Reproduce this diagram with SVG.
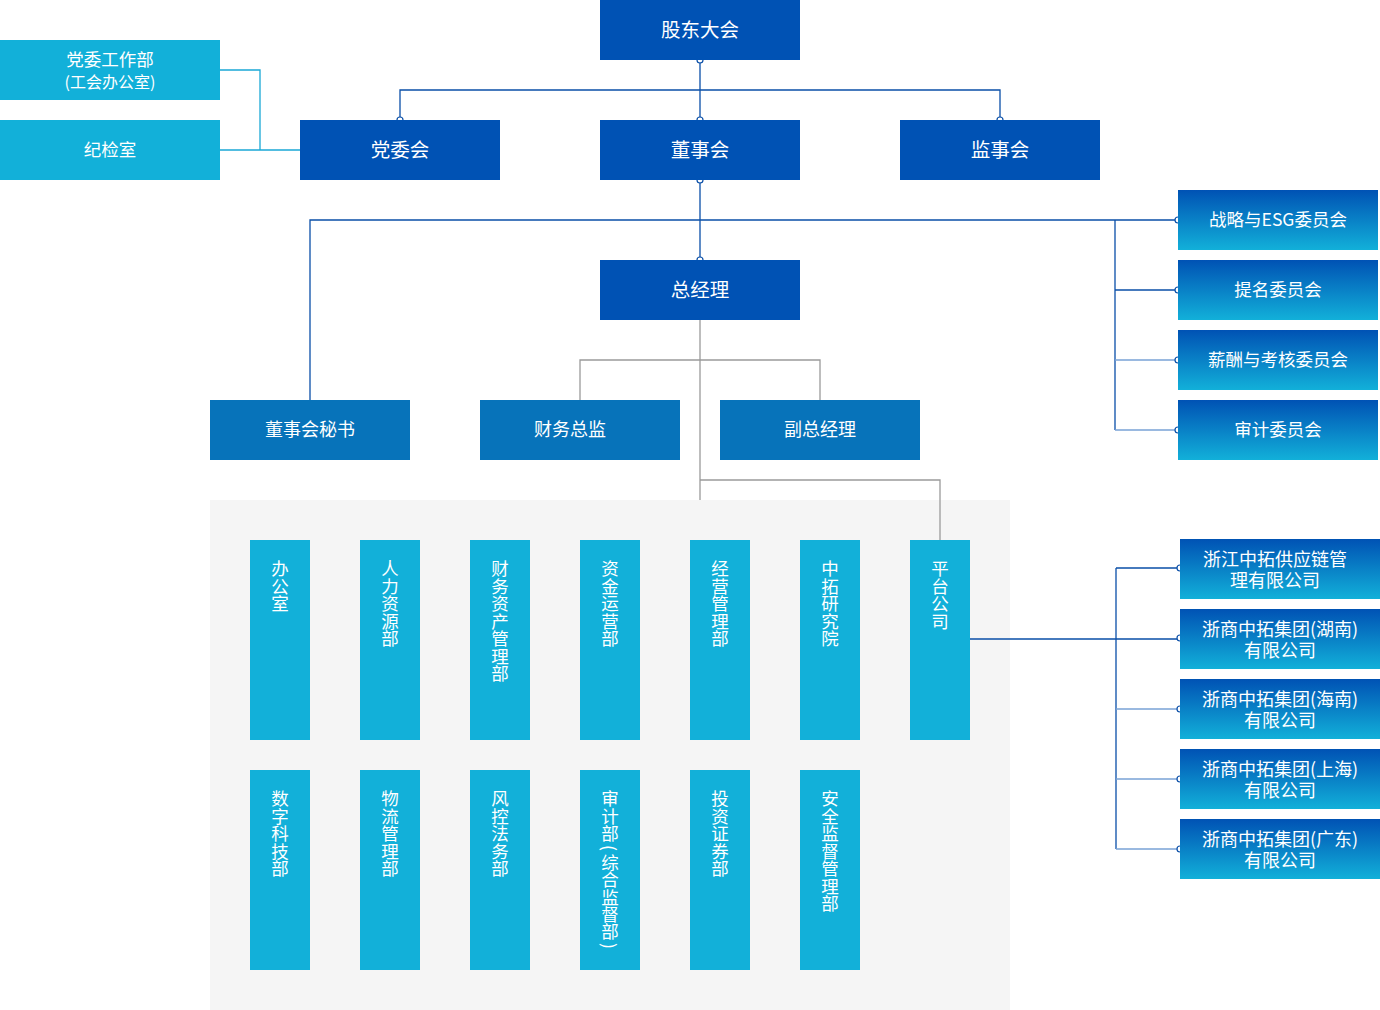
<svg xmlns="http://www.w3.org/2000/svg" width="1380" height="1010" viewBox="0 0 1380 1010">
<style>
text{font-family:"Noto Sans CJK SC","Noto Sans",sans-serif;fill:#fff;text-anchor:middle}
.dk{fill:#0052B4}
.md{fill:#0773BA}
.cy{fill:#12B0D9}
.gr{fill:url(#g)}
.t19{font-size:19.5px}
.t18{font-size:18px}
.t17{font-size:17.5px}
.v{font-size:17.5px;writing-mode:vertical-rl;text-anchor:start}
.lb{stroke:#0a4fa8;stroke-width:1.3;fill:none}
.ll{stroke:#7aa3d6;stroke-width:1.5;fill:none}
.lc{stroke:#1aa8d6;stroke-width:1.3;fill:none}
.lg{stroke:#9a9a9a;stroke-width:1.3;fill:none}
.dot{fill:#fff;stroke:#0a4fa8;stroke-width:1.2}
</style>
<defs>
<linearGradient id="g" x1="0" y1="0" x2="0" y2="1">
<stop offset="0" stop-color="#0052B4"/>
<stop offset="1" stop-color="#12B0D9"/>
</linearGradient>
</defs>
<rect x="210" y="500" width="800" height="510" fill="#f5f5f5"/>
<g id="connectors">
<path class="lb" d="M700 60V120M400 120V90H1000V120"/>
<path class="lc" d="M220 70H260V150M220 150H300"/>
<path class="lb" d="M700 180V260M310 400V220H1178M1115 220V430M1115 290H1178"/>
<path class="ll" d="M1115 360H1178M1115 430H1178"/>
<path class="lg" d="M700 320V500M580 400V360H820V400M700 480H940V540"/>
<path class="lb" d="M970 639H1180M1116 568V849M1116 568H1180"/>
<path class="ll" d="M1116 709H1180M1116 779H1180M1116 849H1180"/>
<circle class="dot" cx="700" cy="60" r="3"/>
<circle class="dot" cx="400" cy="120" r="3"/>
<circle class="dot" cx="700" cy="120" r="3"/>
<circle class="dot" cx="1000" cy="120" r="3"/>
<circle class="dot" cx="700" cy="180" r="3"/>
<circle class="dot" cx="700" cy="260" r="3"/>
<circle class="dot" cx="1178" cy="220" r="3"/>
<circle class="dot" cx="1178" cy="290" r="3"/>
<circle class="dot" cx="1178" cy="360" r="3"/>
<circle class="dot" cx="1178" cy="430" r="3"/>
<circle class="dot" cx="1180" cy="568" r="3"/>
<circle class="dot" cx="1180" cy="638" r="3"/>
<circle class="dot" cx="1180" cy="709" r="3"/>
<circle class="dot" cx="1180" cy="779" r="3"/>
<circle class="dot" cx="1180" cy="849" r="3"/>
</g>
<g id="gudong"><rect class="dk" x="600" y="0" width="200" height="60"/><text class="t19" x="700" y="37">股东大会</text></g>
<g id="dangwei"><rect class="dk" x="300" y="120" width="200" height="60"/><text class="t19" x="400" y="157">党委会</text></g>
<g id="dongshi"><rect class="dk" x="600" y="120" width="200" height="60"/><text class="t19" x="700" y="157">董事会</text></g>
<g id="jianshi"><rect class="dk" x="900" y="120" width="200" height="60"/><text class="t19" x="1000" y="157">监事会</text></g>
<g id="dwgzb"><rect class="cy" x="0" y="40" width="220" height="60"/><text class="t17" x="110" y="66">党委工作部</text><text style="font-size:16px" x="110" y="88">(工会办公室)</text></g>
<g id="jjs"><rect class="cy" x="0" y="120" width="220" height="60"/><text class="t17" x="110" y="156">纪检室</text></g>
<g id="zongjingli"><rect class="dk" x="600" y="260" width="200" height="60"/><text class="t19" x="700" y="297">总经理</text></g>
<g id="c1"><rect class="gr" x="1178" y="190" width="200" height="60"/><text class="t17" x="1278" y="226">战略与ESG委员会</text></g>
<g id="c2"><rect class="gr" x="1178" y="260" width="200" height="60"/><text class="t17" x="1278" y="296">提名委员会</text></g>
<g id="c3"><rect class="gr" x="1178" y="330" width="200" height="60"/><text class="t17" x="1278" y="366">薪酬与考核委员会</text></g>
<g id="c4"><rect class="gr" x="1178" y="400" width="200" height="60"/><text class="t17" x="1278" y="436">审计委员会</text></g>
<g id="mishu"><rect class="md" x="210" y="400" width="200" height="60"/><text class="t18" x="310" y="436">董事会秘书</text></g>
<g id="caiwu"><rect class="md" x="480" y="400" width="200" height="60"/><text class="t18" x="570" y="436">财务总监</text></g>
<g id="fuzong"><rect class="md" x="720" y="400" width="200" height="60"/><text class="t18" x="820" y="436">副总经理</text></g>
<g id="d1"><rect class="cy" x="250" y="540" width="60" height="200"/><text class="v" x="280" y="560">办公室</text></g>
<g id="d2"><rect class="cy" x="360" y="540" width="60" height="200"/><text class="v" x="390" y="560">人力资源部</text></g>
<g id="d3"><rect class="cy" x="470" y="540" width="60" height="200"/><text class="v" x="500" y="560">财务资产管理部</text></g>
<g id="d4"><rect class="cy" x="580" y="540" width="60" height="200"/><text class="v" x="610" y="560">资金运营部</text></g>
<g id="d5"><rect class="cy" x="690" y="540" width="60" height="200"/><text class="v" x="720" y="560">经营管理部</text></g>
<g id="d6"><rect class="cy" x="800" y="540" width="60" height="200"/><text class="v" x="830" y="560">中拓研究院</text></g>
<g id="d7"><rect class="cy" x="910" y="540" width="60" height="200"/><text class="v" x="940" y="560">平台公司</text></g>
<g id="d8"><rect class="cy" x="250" y="770" width="60" height="200"/><text class="v" x="280" y="790">数字科技部</text></g>
<g id="d9"><rect class="cy" x="360" y="770" width="60" height="200"/><text class="v" x="390" y="790">物流管理部</text></g>
<g id="d10"><rect class="cy" x="470" y="770" width="60" height="200"/><text class="v" x="500" y="790">风控法务部</text></g>
<g id="d11"><rect class="cy" x="580" y="770" width="60" height="200"/><text class="v" x="610" y="790">审计<tspan style="letter-spacing:2.5px">部(</tspan>综合监督<tspan style="letter-spacing:2.5px">部)</tspan></text></g>
<g id="d12"><rect class="cy" x="690" y="770" width="60" height="200"/><text class="v" x="720" y="790">投资证券部</text></g>
<g id="d13"><rect class="cy" x="800" y="770" width="60" height="200"/><text class="v" x="830" y="790">安全监督管理部</text></g>
<g id="s1"><rect class="gr" x="1180" y="539" width="200" height="60"/><text class="t18" x="1275" y="566">浙江中拓供应链管</text><text class="t18" x="1275" y="587">理有限公司</text></g>
<g id="s2"><rect class="gr" x="1180" y="609" width="200" height="60"/><text class="t18" x="1280" y="636">浙商中拓集团(湖南)</text><text class="t18" x="1280" y="657">有限公司</text></g>
<g id="s3"><rect class="gr" x="1180" y="679" width="200" height="60"/><text class="t18" x="1280" y="706">浙商中拓集团(海南)</text><text class="t18" x="1280" y="727">有限公司</text></g>
<g id="s4"><rect class="gr" x="1180" y="749" width="200" height="60"/><text class="t18" x="1280" y="776">浙商中拓集团(上海)</text><text class="t18" x="1280" y="797">有限公司</text></g>
<g id="s5"><rect class="gr" x="1180" y="819" width="200" height="60"/><text class="t18" x="1280" y="846">浙商中拓集团(广东)</text><text class="t18" x="1280" y="867">有限公司</text></g>
</svg>
